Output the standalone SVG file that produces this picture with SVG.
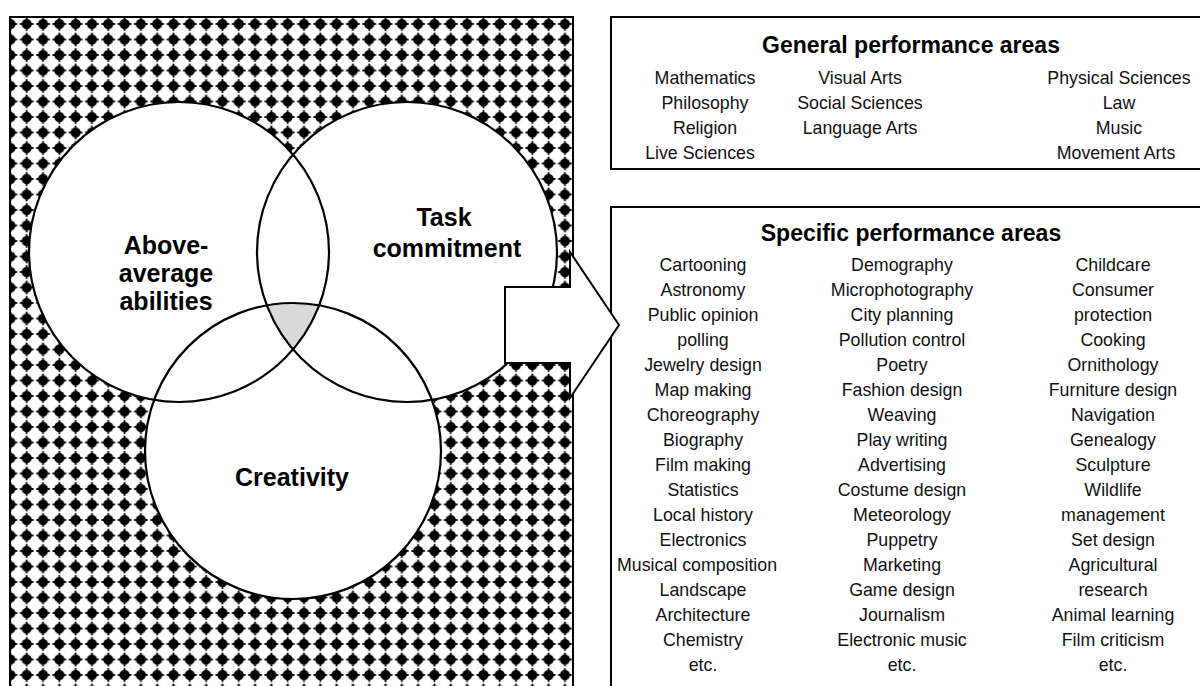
<svg xmlns="http://www.w3.org/2000/svg" width="1200" height="686" viewBox="0 0 1200 686">
  <defs>
    <!-- dotted background tile: round black dot with short cross spikes -->
    <pattern id="dots" patternUnits="userSpaceOnUse" x="2.25" y="16.25" width="16.31" height="15.5">
      <rect width="16.31" height="15.5" fill="#fff"/>
      <circle cx="8.155" cy="7.75" r="5.1" fill="#000"/>
      <rect x="1.3" y="6.85" width="13.7" height="1.8" fill="#000"/>
      <rect x="7.255" y="0.9" width="1.8" height="13.7" fill="#000"/>
    </pattern>
    <style>
      .box { fill: #fff; stroke: #000; stroke-width: 2; }
      .ring { fill: none; stroke: #000; stroke-width: 2.2; }
      .disc { fill: #fff; stroke: none; }
      .title { font-family: "Liberation Sans", Arial, sans-serif; font-weight: bold; font-size: 23px; fill: #000; text-anchor: middle; }
      .item { font-family: "Liberation Sans", Arial, sans-serif; font-size: 17.8px; fill: #111; text-anchor: middle; }
      .venn { font-family: "Liberation Sans", Arial, sans-serif; font-weight: bold; font-size: 25px; fill: #000; text-anchor: middle; }
      .arrow { fill: #fff; stroke: #000; stroke-width: 2; stroke-linejoin: miter; }
    </style>
  </defs>

  <rect width="1200" height="686" fill="#fff"/>

  <!-- patterned panel behind the three-ring model -->
  <g id="panel">
    <rect x="10" y="17" width="563" height="700" fill="url(#dots)" stroke="#000" stroke-width="2"/>
  </g>

  <!-- three-ring model -->
  <g id="rings">
    <circle class="disc" cx="179" cy="252" r="150"/>
    <circle class="disc" cx="407" cy="252" r="150"/>
    <circle class="disc" cx="293" cy="451" r="148"/>
    <path id="core" d="M266.8 305.3 A148 148 0 0 1 319.2 305.3 A150 150 0 0 1 293 349.5 A150 150 0 0 1 266.8 305.3 Z" fill="#d9d9d9"/>
    <circle class="ring" cx="179" cy="252" r="150"/>
    <circle class="ring" cx="407" cy="252" r="150"/>
    <circle class="ring" cx="293" cy="451" r="148"/>
  </g>

  <g id="abilities">
    <text class="venn" x="166" y="254">Above-</text>
    <text class="venn" x="166" y="282">average</text>
    <text class="venn" x="166" y="310">abilities</text>
  </g>
  <g id="commitment">
    <text class="venn" x="444" y="226">Task</text>
    <text class="venn" x="447" y="257">commitment</text>
  </g>
  <g id="creativity">
    <text class="venn" x="292" y="486">Creativity</text>
  </g>

  <!-- general performance areas -->
  <g id="general">
    <rect class="box" x="611" y="17" width="600" height="152"/>
    <text class="title" x="911" y="53">General performance areas</text>
    <text class="item" x="705" y="84">Mathematics</text>
    <text class="item" x="705" y="109">Philosophy</text>
    <text class="item" x="705" y="134">Religion</text>
    <text class="item" x="700" y="159">Live Sciences</text>
    <text class="item" x="860" y="84">Visual Arts</text>
    <text class="item" x="860" y="109">Social Sciences</text>
    <text class="item" x="860" y="134">Language Arts</text>
    <text class="item" x="1119" y="84">Physical Sciences</text>
    <text class="item" x="1119" y="109">Law</text>
    <text class="item" x="1119" y="134">Music</text>
    <text class="item" x="1116" y="159">Movement Arts</text>
  </g>

  <!-- specific performance areas -->
  <g id="specific">
    <rect class="box" x="611" y="207" width="600" height="500"/>
    <text class="title" x="911" y="241">Specific performance areas</text>
    <g transform="translate(703 0)">
      <text class="item" y="271">Cartooning</text>
      <text class="item" y="296">Astronomy</text>
      <text class="item" y="321">Public opinion</text>
      <text class="item" y="346">polling</text>
      <text class="item" y="371">Jewelry design</text>
      <text class="item" y="396">Map making</text>
      <text class="item" y="421">Choreography</text>
      <text class="item" y="446">Biography</text>
      <text class="item" y="471">Film making</text>
      <text class="item" y="496">Statistics</text>
      <text class="item" y="521">Local history</text>
      <text class="item" y="546">Electronics</text>
      <text class="item" x="-6" y="571">Musical composition</text>
      <text class="item" y="596">Landscape</text>
      <text class="item" y="621">Architecture</text>
      <text class="item" y="646">Chemistry</text>
      <text class="item" y="671">etc.</text>
    </g>
    <g transform="translate(902 0)">
      <text class="item" y="271">Demography</text>
      <text class="item" y="296">Microphotography</text>
      <text class="item" y="321">City planning</text>
      <text class="item" y="346">Pollution control</text>
      <text class="item" y="371">Poetry</text>
      <text class="item" y="396">Fashion design</text>
      <text class="item" y="421">Weaving</text>
      <text class="item" y="446">Play writing</text>
      <text class="item" y="471">Advertising</text>
      <text class="item" y="496">Costume design</text>
      <text class="item" y="521">Meteorology</text>
      <text class="item" y="546">Puppetry</text>
      <text class="item" y="571">Marketing</text>
      <text class="item" y="596">Game design</text>
      <text class="item" y="621">Journalism</text>
      <text class="item" y="646">Electronic music</text>
      <text class="item" y="671">etc.</text>
    </g>
    <g transform="translate(1113 0)">
      <text class="item" y="271">Childcare</text>
      <text class="item" y="296">Consumer</text>
      <text class="item" y="321">protection</text>
      <text class="item" y="346">Cooking</text>
      <text class="item" y="371">Ornithology</text>
      <text class="item" y="396">Furniture design</text>
      <text class="item" y="421">Navigation</text>
      <text class="item" y="446">Genealogy</text>
      <text class="item" y="471">Sculpture</text>
      <text class="item" y="496">Wildlife</text>
      <text class="item" y="521">management</text>
      <text class="item" y="546">Set design</text>
      <text class="item" y="571">Agricultural</text>
      <text class="item" y="596">research</text>
      <text class="item" y="621">Animal learning</text>
      <text class="item" y="646">Film criticism</text>
      <text class="item" y="671">etc.</text>
    </g>
  </g>

  <!-- block arrow from the model into the specific areas -->
  <g id="connectors">
    <path class="arrow" d="M505 287 H570 V252 L619 325 L570 398 V363 H505 Z"/>
  </g>
</svg>
